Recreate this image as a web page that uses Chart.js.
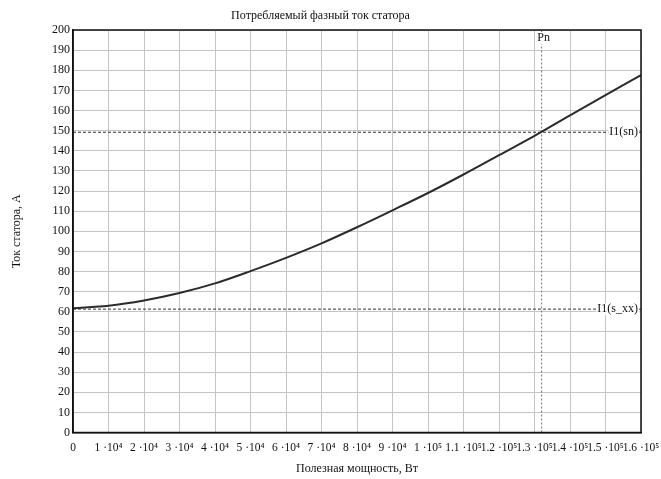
<!DOCTYPE html>
<html>
<head>
<meta charset="utf-8">
<script src="https://cdn.jsdelivr.net/npm/chart.js@4"></script>
<style>
  body { margin: 0; background: #fff; }
  #wrap { width: 661px; height: 479px; }
</style>
</head>
<body>
<div id="wrap"><canvas id="statorChart" width="661" height="479"></canvas></div>
<script>
// Полезная мощность, Вт
const power = [0, 10000, 20000, 30000, 40000, 50000, 60000, 70000, 80000,
  90000, 100000, 110000, 120000, 130000, 140000, 150000, 160000];
// Ток статора, А
const current = [61.8, 63.0, 65.6, 69.3, 74.1, 80.2, 86.8, 94.0, 102.0,
  110.4, 119.0, 128.2, 137.8, 147.4, 157.6, 167.6, 177.6];

const xTickLabels = ['0', '1 ·10⁴', '2 ·10⁴', '3 ·10⁴', '4 ·10⁴', '5 ·10⁴', '6 ·10⁴', '7 ·10⁴',
  '8 ·10⁴', '9 ·10⁴', '1 ·10⁵', '1.1 ·10⁵', '1.2 ·10⁵', '1.3 ·10⁵', '1.4 ·10⁵', '1.5 ·10⁵', '1.6 ·10⁵'];

// marker lines
const Pn = 132000;
const I1sn = 149.2;
const I1xx = 61.3;

const serif = '"Liberation Serif", "Times New Roman", serif';

const markLabels = {
  id: 'markLabels',
  afterDraw(chart) {
    const { ctx, chartArea: a, scales: { x, y } } = chart;
    ctx.save();
    ctx.font = '12px ' + serif;
    ctx.fillStyle = '#111';
    ctx.textBaseline = 'middle';

    const box = (txt, px, py, align) => {
      const w = ctx.measureText(txt).width;
      const left = align === 'right' ? px - w : px - w / 2;
      ctx.fillStyle = '#fff';
      ctx.fillRect(left - 1, py - 6, w + 2, 12);
      ctx.fillStyle = '#111';
      ctx.textAlign = align;
      ctx.fillText(txt, px, py);
    };
    box('Pn', x.getPixelForValue(Pn) + 2, a.top + 8, 'center');
    box('I1(sn)', a.right - 3, y.getPixelForValue(I1sn), 'right');
    box('I1(s_xx)', a.right - 3, y.getPixelForValue(I1xx), 'right');

    ctx.strokeStyle = '#111';
    ctx.lineWidth = 1.5;
    ctx.strokeRect(a.left, a.top, a.right - a.left, a.bottom - a.top);
    ctx.restore();
  }
};

new Chart(document.getElementById('statorChart'), {
  type: 'scatter',
  data: {
    datasets: [
      {
        data: power.map((p, i) => ({ x: p, y: current[i] })),
        showLine: true,
        borderColor: '#2b2b2b',
        borderWidth: 2,
        pointRadius: 0,
        cubicInterpolationMode: 'monotone'
      },
      {
        data: [{ x: 0, y: I1sn }, { x: 160000, y: I1sn }],
        showLine: true,
        borderColor: '#333',
        borderWidth: 1,
        borderDash: [3, 2],
        pointRadius: 0
      },
      {
        data: [{ x: 0, y: I1xx }, { x: 160000, y: I1xx }],
        showLine: true,
        borderColor: '#333',
        borderWidth: 1,
        borderDash: [3, 2],
        pointRadius: 0
      },
      {
        data: [{ x: Pn, y: 0 }, { x: Pn, y: 200 }],
        showLine: true,
        borderColor: '#777',
        borderWidth: 1,
        borderDash: [2, 2],
        pointRadius: 0
      }
    ]
  },
  options: {
    responsive: false,
    animation: false,
    layout: { padding: { left: 0, right: 20, top: 0, bottom: 0 } },
    plugins: {
      legend: { display: false },
      tooltip: { enabled: false },
      title: {
        display: true,
        text: 'Потребляемый фазный ток статора',
        color: '#111',
        font: { family: serif, size: 12, weight: 'normal' },
        padding: { top: 9, bottom: 6.6 }
      }
    },
    scales: {
      x: {
        type: 'linear',
        min: 0,
        max: 160000,
        afterFit(s) {
          s.height = 46.5;
          // labels may run past the plot edge, as in the original
          s.paddingLeft = 0;
          s.paddingRight = 0;
        },
        ticks: {
          stepSize: 10000,
          autoSkip: false,
          maxRotation: 0,
          padding: 9,
          color: '#111',
          font: { family: serif, size: 11.5 },
          callback: (v) => xTickLabels[Math.round(v / 10000)]
        },
        grid: { color: '#c4c4c4', lineWidth: 1, drawTicks: false },
        border: { color: '#111', width: 1.5 },
        title: {
          display: true,
          text: 'Полезная мощность, Вт',
          color: '#111',
          font: { family: serif, size: 12 },
          padding: { top: 0, bottom: 3 }
        }
      },
      y: {
        min: 0,
        max: 200,
        afterFit(s) { s.width = 73; },
        ticks: {
          stepSize: 10,
          padding: 3,
          color: '#111',
          font: { family: serif, size: 12 }
        },
        grid: { color: '#c4c4c4', lineWidth: 1, drawTicks: false },
        border: { color: '#111', width: 1.5 },
        title: {
          display: true,
          text: 'Ток статора, А',
          color: '#111',
          font: { family: serif, size: 12 },
          padding: { top: 10, bottom: 0 }
        }
      }
    }
  },
  plugins: [markLabels]
});
</script>
</body>
</html>
